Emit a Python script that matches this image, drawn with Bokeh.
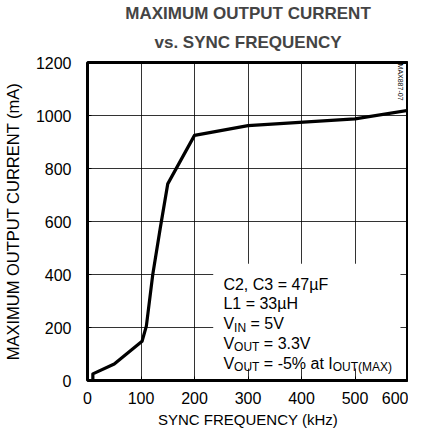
import math
from bokeh.plotting import figure
from bokeh.models import Range1d, FixedTicker, Label, Title, ColumnDataSource
from bokeh.embed import file_html
from bokeh.resources import INLINE

# ---- data ----
freq_khz = [10, 10, 50, 102, 110, 122, 136, 150, 200, 300, 500, 600]
max_current_ma = [0, 25, 62, 148, 205, 400, 575, 742, 925, 962, 987, 1020]
x_ticks = [0, 100, 200, 300, 400, 500, 600]
y_ticks = [0, 200, 400, 600, 800, 1000, 1200]
title_line1 = "MAXIMUM OUTPUT CURRENT"
title_line2 = "vs. SYNC FREQUENCY"
x_label = "SYNC FREQUENCY (kHz)"
y_label = "MAXIMUM OUTPUT CURRENT (mA)"
fig_id = "MAX887-07"
NB = "\u00a0"
# annotation lines: list of (text, is_subscript) segments
note_lines = [
    [("C2, C3 = 47\u00b5F", False)],
    [("L1 = 33\u00b5H", False)],
    [("V", False), ("IN", True), (NB + "= 5V", False)],
    [("V", False), ("OUT", True), (NB + "= 3.3V", False)],
    [("V", False), ("OUT", True), (NB + "= -5% at I", False), ("OUT(MAX)", True)],
]
note_y = [361, 290, 215, 140, 65]

FONT = "Liberation Sans"

p = figure(width=408, height=430, output_backend="svg", toolbar_location=None,
           x_range=Range1d(0, 600), y_range=Range1d(0, 1200),
           min_border_left=81, min_border_right=0, min_border_bottom=41, min_border_top=0)

p.title.text = title_line1
p.title.align = "center"
p.title.text_font = FONT
p.title.text_font_size = "17px"
p.title.text_font_style = "bold"
p.title.vertical_align = "bottom"
p.title.standoff = 3
sub = Title(text=title_line2, align="center", text_font=FONT, text_font_size="17px",
            text_font_style="bold", vertical_align="top", standoff=17)
p.add_layout(sub, "above")

p.outline_line_color = "black"
p.outline_line_width = 3
p.background_fill_color = "white"
p.border_fill_color = "white"

for g in (p.xgrid, p.ygrid):
    g.grid_line_color = "black"
    g.grid_line_alpha = 0.8
    g.grid_line_width = 1
p.xgrid.ticker = FixedTicker(ticks=x_ticks)
p.ygrid.ticker = FixedTicker(ticks=y_ticks)

p.xaxis.ticker = FixedTicker(ticks=x_ticks)
p.yaxis.ticker = FixedTicker(ticks=y_ticks)
for ax in (p.xaxis, p.yaxis):
    ax.axis_line_color = None
    ax.major_tick_in = 4
    ax.major_tick_out = 0
    ax.major_tick_line_color = "black"
    ax.minor_tick_line_color = None
    ax.major_label_text_font = FONT
    ax.major_label_text_font_size = "16px"
    ax.major_label_text_color = "black"
    ax.axis_label_text_font = FONT
    ax.axis_label_text_font_style = "normal"
    ax.axis_label_text_color = "black"
p.xaxis.axis_label_text_font_size = "15px"
p.yaxis.axis_label_text_font_size = "16.5px"
p.xaxis.axis_label = x_label
p.yaxis.axis_label = y_label
p.xaxis.major_label_standoff = 11
p.yaxis.major_label_standoff = 16
p.xaxis.axis_label_standoff = 4
p.yaxis.axis_label_standoff = 11

# white box behind annotation
p.quad(left=[235], right=[585], bottom=[45], top=[441], fill_color="white", line_color=None)

# curve
src = ColumnDataSource(dict(x=freq_khz, y=max_current_ma))
p.line("x", "y", source=src, line_color="black", line_width=3.2, line_join="round")

# annotation text
def text_width(s, size):
    w = {"V": .667, "I": .278, "N": .722, "O": .778, "U": .722, "T": .611, "(": .333,
         ")": .333, "M": .833, "A": .667, "X": .667, " ": .278, NB: .278, "=": .584,
         "-": .333, "5": .556, "%": .889, "a": .556, "t": .278}
    return sum(w.get(c, .556) for c in s) * size

for segs, yv in zip(note_lines, note_y):
    xoff = 0.0
    for txt, is_sub in segs:
        size = 12 if is_sub else 16
        p.add_layout(Label(x=254, y=yv, x_offset=xoff, y_offset=(-4 if is_sub else 0),
                           text=txt, text_font=FONT, text_font_size=f"{size}px",
                           text_baseline="middle", text_align="left", text_color="black"))
        xoff += text_width(txt, size)

# figure id, kept just inside the right edge of the frame
p.add_layout(Label(x=600, y=1196, x_offset=-8, text=fig_id, angle=-math.pi / 2,
                   text_font=FONT, text_font_size="7px", text_baseline="middle",
                   text_align="left", text_color="black"))

open("out.html", "w").write(file_html(p, INLINE))
